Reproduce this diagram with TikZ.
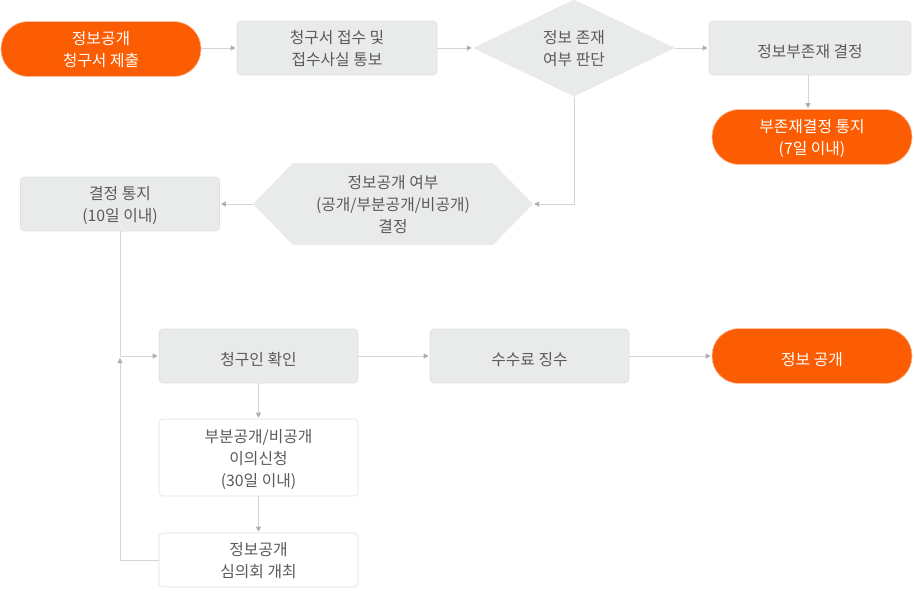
\documentclass[tikz,border=0pt]{standalone}
\usepackage{fontspec}
\setmainfont{Noto Sans CJK KR}
\usetikzlibrary{shapes.geometric,arrows.meta}
\definecolor{orng}{HTML}{FC5D03}
\definecolor{boxg}{HTML}{E9EBEA}
\definecolor{boxb}{HTML}{DEE0DF}
\definecolor{txtg}{HTML}{5A5A5A}
\definecolor{lineg}{HTML}{D4D4D4}
\definecolor{tipg}{HTML}{AFAFAF}
\begin{document}
\begin{tikzpicture}[x=1pt,y=-1pt,
  every node/.style={font=\fontsize{15.8pt}{22pt}\selectfont, align=center, inner sep=0pt},
  one/.style={execute at begin node={\rule{0pt}{20pt}}},
  multi/.style={text depth=0pt},
  pill/.style={fill=orng, draw=orng!40!white, line width=0.6pt, rounded corners=27pt, minimum width=200pt, minimum height=55pt, text=white},
  gbox/.style={fill=boxg, draw=boxb, line width=0.6pt, rounded corners=4pt, minimum width=200pt, minimum height=54pt, text=txtg},
  wbox/.style={fill=white, draw=boxb, line width=0.6pt, rounded corners=4pt, minimum width=200pt, minimum height=54pt, text=txtg},
  dia/.style={diamond, fill=boxg, minimum width=202pt, minimum height=97pt, text=txtg},
  conn/.style={draw=lineg, line width=1pt},
  arr/.style={conn, -{Triangle[length=5pt,width=5pt,color=tipg]}, shorten >=1pt}
]
\useasboundingbox (0,0) rectangle (914,590);

% hexagon background
\fill[boxg] (253,204) -- (293,163) -- (493,163) -- (533,204) -- (493,245) -- (293,245) -- cycle;

\node[pill, multi] (n1) at (101,49) {정보공개\\청구서 제출};
\node[gbox, multi] (n2) at (337,48) {청구서 접수 및\\접수사실 통보};
\node[dia, multi] (n3) at (574,48) {정보 존재\\여부 판단};
\node[gbox, one, minimum width=202pt] (n4) at (810,48) {정보부존재 결정};
\node[pill, multi] (n5) at (812,137) {부존재결정 통지\\(7일 이내)};
\node[multi, minimum width=280pt, minimum height=82pt, text=txtg] (hex) at (393,204) {정보공개 여부\\(공개/부분공개/비공개)\\결정};
\node[gbox, multi, minimum width=199pt] (n7) at (120,204) {결정 통지\\(10일 이내)};
\node[gbox, one, minimum width=199pt] (n8) at (258.5,356) {청구인 확인};
\node[gbox, one, minimum width=199pt] (n9) at (529.5,356) {수수료 징수};
\node[pill, one] (n10) at (812,356) {정보 공개};
\node[wbox, multi, minimum width=199pt, minimum height=77pt] (n11) at (258.5,457.5) {부분공개/비공개\\이의신청\\(30일 이내)};
\node[wbox, multi, minimum width=199pt] (n12) at (258.5,560) {정보공개\\심의회 개최};
\coordinate (j) at (120,356);
\coordinate (jb) at (120,357);

\draw[arr] (n1.east |- n2.west) -- (n2.west);
\draw[arr] (n2) -- (n3);
\draw[arr] (n3) -- (n4);
\draw[arr] (n4.south -| 808,0) -- (n5.north -| 808,0);
\draw[arr] (n3.south) |- (hex.east);
\draw[arr] (hex.west) -- (n7.east);
\draw[conn] (n7.south) -- (j);
\draw[arr] (j) -- (n8.west);
\draw[arr] (n12.west) -| (jb);
\draw[arr] (n8) -- (n9);
\draw[arr] (n9) -- (n10);
\draw[arr] (n8) -- (n11);
\draw[arr] (n11) -- (n12);
\end{tikzpicture}
\end{document}
